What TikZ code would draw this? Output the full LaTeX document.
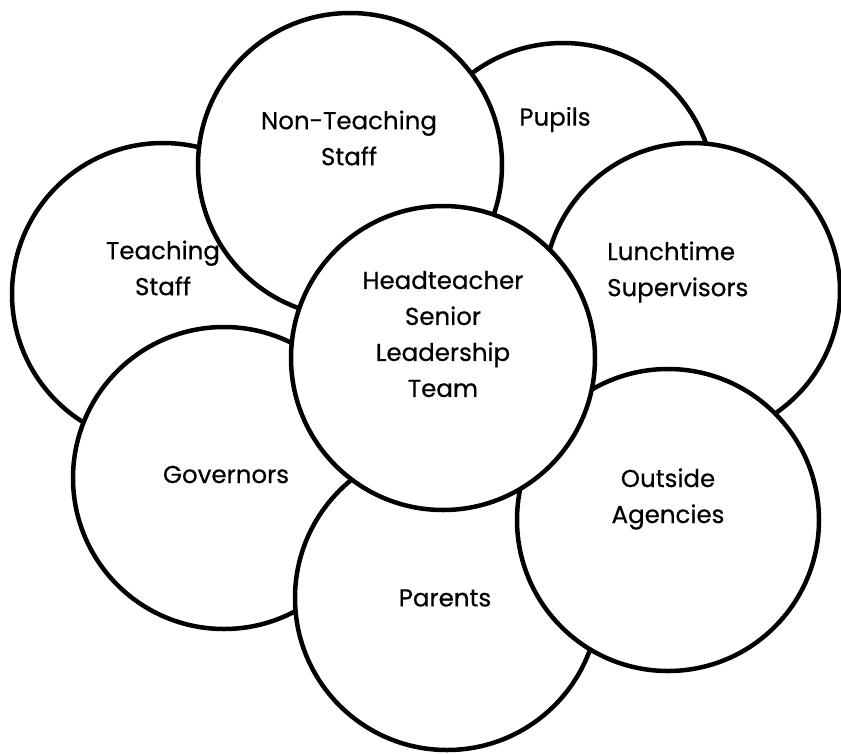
\documentclass[tikz,border=0pt]{standalone}
\usepackage{fontspec}
\setmainfont{Poppins}
\newfontfamily\ringfont{Poppins}[FakeBold=0.5]
\begin{document}
\begin{tikzpicture}[x=1pt,y=-1pt,
  ring/.style={circle,draw=black,fill=white,line width=4.5pt,inner sep=0pt,minimum size=#1},
  label/.style={inner sep=0pt,align=center,font=\ringfont\fontsize{24.5}{36}\selectfont}]
\useasboundingbox (0,0) rectangle (841,753);
% circles, back to front
\node[ring=304pt] (pupils)   at (563,195) {};
\node[ring=302pt] (teaching) at (163,294) {};
\node[ring=304pt] (nonteach) at (350,165) {};
\node[ring=296pt] (lunch)    at (692,291) {};
\node[ring=302pt] (gov)      at (224,478) {};
\node[ring=304pt] (parents)  at (447,598) {};
\node[ring=302pt] (outside)  at (668,520) {};
\node[ring=304pt] (head)     at (443,358) {};
% labels on top
\node[label] (tpupils)   at (555,119.5) {Pupils};
\node[label] (tnonteach) at (349,138) {Non-Teaching\\Staff};
\node[label] (tteaching) at (163,268) {Teaching\\Staff};
\node[label] (thead)     at (443,334) {Headteacher\\Senior\\Leadership\\Team};
\node[label,align=left,anchor=west] (tlunch) at (607,272) {Lunchtime\\Supervisors};
\node[label] (tgov)      at (226,474.5) {Governors};
\node[label] (toutside)  at (668,499) {Outside\\Agencies};
\node[label] (tparents)  at (445,598) {Parents};
\end{tikzpicture}
\end{document}
